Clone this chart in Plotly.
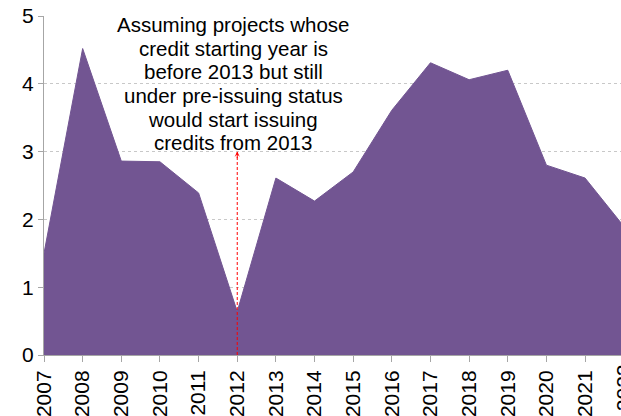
import plotly.graph_objects as go

# Annual credit issuance (millions), 2007-2022
years = list(range(2007, 2023))
values = [1.50, 4.52, 2.86, 2.85, 2.39, 0.64, 2.61, 2.27, 2.70, 3.61, 4.31, 4.06, 4.20, 2.80, 2.61, 1.90]
y_ticks = [0, 1, 2, 3, 4, 5]

note_lines = [
    "Assuming projects whose",
    "credit starting year is",
    "before 2013 but still",
    "under pre-issuing status",
    "would start issuing",
    "credits from 2013",
]
arrow_year = 2012
arrow_top = 3

fill_color = "#725592"
axis_color = "#a6a6a6"
font_family = "Liberation Sans, Arial, sans-serif"

x_range = [2007, 2021.93]

fig = go.Figure()
fig.add_trace(go.Scatter(
    x=years, y=values, mode="lines", fill="tozeroy",
    fillcolor=fill_color, line=dict(color=fill_color, width=1),
    hoverinfo="skip", showlegend=False,
))

# dashed guide from the baseline up to the note
fig.add_shape(type="line", xref="x", yref="y",
              x0=arrow_year, x1=arrow_year, y0=0, y1=arrow_top,
              line=dict(color="#ff0000", width=1, dash="3px,2px"), layer="above")
fig.add_annotation(x=arrow_year, y=arrow_top, xref="x", yref="y",
                   ax=0, ay=8, text="", showarrow=True,
                   arrowhead=3, arrowsize=0.9, arrowwidth=1, arrowcolor="#ff0000",
                   standoff=0)

# note text, stacked line by line above the arrow tip
line_step = 23.6
for k, line in enumerate(reversed(note_lines)):
    fig.add_annotation(x=arrow_year, y=arrow_top, xref="x", yref="y",
                       text=line, showarrow=False, yanchor="middle", xanchor="center",
                       yshift=9 + line_step * k, xshift=-4,
                       font=dict(family=font_family, size=20.5, color="#000000"))

# last year label sits just past the plot's right edge
last_year = years[-1]
fig.add_annotation(x=(last_year - x_range[0]) / (x_range[1] - x_range[0]), y=0,
                   xref="paper", yref="paper", text=str(last_year), textangle=-90,
                   showarrow=False, xanchor="center", yanchor="top", yshift=-7,
                   font=dict(family=font_family, size=21, color="#000000"))

fig.update_xaxes(
    range=x_range, tickmode="array", tickvals=years, ticktext=[str(y) for y in years],
    tickangle=-90, ticks="outside", ticklen=6, tickcolor=axis_color, tickwidth=1,
    showline=True, linecolor=axis_color, linewidth=1, showgrid=False, zeroline=False,
    tickfont=dict(family=font_family, size=21, color="#000000"),
)
fig.update_yaxes(
    range=[0, 5], tickmode="array", tickvals=y_ticks,
    ticks="outside", ticklen=5, tickcolor=axis_color, tickwidth=1,
    showline=True, linecolor=axis_color, linewidth=1,
    showgrid=True, gridcolor="#c8c8c8", griddash="dot", gridwidth=1, zeroline=False,
    tickfont=dict(family=font_family, size=21, color="#000000"),
)

fig.update_layout(
    width=621, height=416,
    margin=dict(l=44, r=0, t=16, b=61),
    plot_bgcolor="#ffffff", paper_bgcolor="#ffffff",
)

fig.write_html("out.html")
